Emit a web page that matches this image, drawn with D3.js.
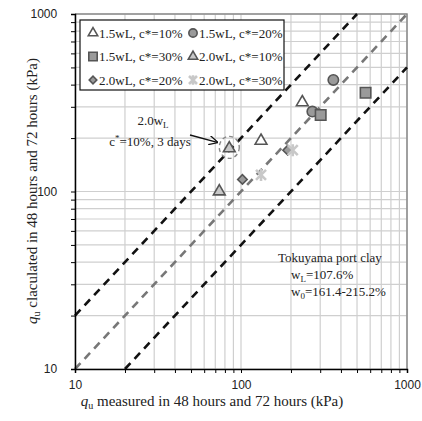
<!DOCTYPE html>
<head>
<meta charset="utf-8">
<title>qu calculated vs measured</title>
<script src="https://cdn.jsdelivr.net/npm/d3@7/dist/d3.min.js"></script>
<style>
	body { margin: 0; background: #fff; }
	.tick text { font: 12px "Liberation Sans", sans-serif; fill: #222; }
	.serif { font-family: "Liberation Serif", "Times New Roman", serif; fill: #222; }
</style>
</head>
<body>
<script>
var width = 422, height = 421;
var margin = {top: 14, right: 15, bottom: 52, left: 75};

// data
var seriesNames = ["1.5wL, c*=10%", "1.5wL, c*=20%", "1.5wL, c*=30%",
                   "2.0wL, c*=10%", "2.0wL, c*=20%", "2.0wL, c*=30%"];
var x15c10 = [132, 234], y15c10 = [193, 318];
var x15c20 = [269, 360], y15c20 = [282, 425];
var x15c30 = [302, 563], y15c30 = [270, 360];
var x20c10 = [74, 85],   y20c10 = [100, 175];
var x20c20 = [102, 191], y20c20 = [117, 171];
var x20c30 = [132, 205], y20c30 = [124, 171];
var highlight = [85, 175]; // 2.0wL, c*=10%, 3 days
var ratios = [2, 1, 0.5];  // y = k * x reference lines
var tickValues = [10, 100, 1000];

var allX = [x15c10, x15c20, x15c30, x20c10, x20c20, x20c30];
var allY = [y15c10, y15c20, y15c30, y20c10, y20c20, y20c30];

var svg = d3.select("body").append("svg")
	.attr("width", width)
	.attr("height", height);

var x = d3.scaleLog().domain([10, 1000]).range([margin.left, width - margin.right]);
var y = d3.scaleLog().domain([10, 1000]).range([height - margin.bottom, margin.top]);

// grid lines at 1..9 of each decade
var gridVals = [];
[10, 100].forEach(function(d) { for (var i = 1; i < 10; i++) gridVals.push(d * i); });
gridVals.push(1000);

var g = svg.append("g");
g.selectAll(".vg").data(gridVals).enter().append("line")
	.attr("x1", function(d) { return x(d); }).attr("x2", function(d) { return x(d); })
	.attr("y1", y(10)).attr("y2", y(1000))
	.style("stroke", "#cfcfcf").style("stroke-width", 1.2);
g.selectAll(".hg").data(gridVals).enter().append("line")
	.attr("y1", function(d) { return y(d); }).attr("y2", function(d) { return y(d); })
	.attr("x1", x(10)).attr("x2", x(1000))
	.style("stroke", "#cfcfcf").style("stroke-width", 1.2);

// top / right frame
svg.append("path")
	.attr("d", "M" + x(10) + "," + y(1000) + "H" + x(1000) + "V" + y(10))
	.style("fill", "none").style("stroke", "#8a8a8a").style("stroke-width", 1.5);

// reference lines y = k x
var lineColors = ["#111", "#777", "#111"];
ratios.forEach(function(k, i) {
	var x0 = Math.max(10, 10 / k), x1 = Math.min(1000, 1000 / k);
	svg.append("line")
		.attr("x1", x(x0)).attr("y1", y(x0 * k))
		.attr("x2", x(x1)).attr("y2", y(x1 * k))
		.style("stroke", lineColors[i])
		.style("stroke-width", 2.6)
		.style("stroke-dasharray", "8,6");
});

// axes
var xAxis = d3.axisBottom(x).tickValues(gridVals).tickSize(4)
	.tickFormat(function(d) { return tickValues.indexOf(d) >= 0 ? d : ""; });
var yAxis = d3.axisLeft(y).tickValues(gridVals).tickSize(4)
	.tickFormat(function(d) { return tickValues.indexOf(d) >= 0 ? d : ""; });

var gx = svg.append("g").attr("transform", "translate(0," + y(10) + ")").call(xAxis);
gx.selectAll("text").attr("dy", "1.05em");
var gy = svg.append("g").attr("transform", "translate(" + x(10) + ",0)").call(yAxis);
gy.selectAll("text").attr("dx", "-0.9em");
[gx, gy].forEach(function(a) {
	a.select(".domain").style("stroke", "#000").style("stroke-width", 1.5);
	a.selectAll(".tick line").style("stroke", "#000");
});

// markers
var stroke = "#555";
var styles = [
	{type: d3.symbolTriangle, size: 60, fill: "#fff", stroke: stroke},
	{type: d3.symbolCircle, size: 85, fill: "#9a9a9a", stroke: stroke},
	{type: d3.symbolSquare, size: 110, fill: "#9a9a9a", stroke: stroke},
	{type: d3.symbolTriangle, size: 60, fill: "#c8c8c8", stroke: stroke},
	{type: d3.symbolSquare, size: 45, fill: "#9a9a9a", stroke: stroke, rotate: 45},
	{type: "star", size: 5, fill: "none", stroke: "#c8c8c8"}
];

function drawMarker(sel, s, cx, cy, scale) {
	scale = scale || 1;
	if (s.type === "star") {
		var r = s.size * scale;
		sel.append("path")
			.attr("transform", "translate(" + cx + "," + cy + ")")
			.attr("d", "M" + (-r) + "," + (-r) + "L" + r + "," + r +
			           "M" + (-r) + "," + r + "L" + r + "," + (-r) +
			           "M0," + (-r * 1.2) + "V" + (r * 1.2))
			.style("stroke", s.stroke).style("stroke-width", 2.6).style("fill", "none");
	} else {
		sel.append("path")
			.attr("transform", "translate(" + cx + "," + cy + ") rotate(" + (s.rotate || 0) + ")")
			.attr("d", d3.symbol().type(s.type).size(s.size * scale * scale)())
			.style("fill", s.fill).style("stroke", s.stroke).style("stroke-width", 1.6);
	}
}

// highlight circle around the 3-day point
svg.append("ellipse")
	.attr("cx", x(highlight[0])).attr("cy", y(highlight[1]) - 1)
	.attr("rx", 10).attr("ry", 11)
	.style("fill", "none").style("stroke", "#888").style("stroke-width", 1.4)
	.style("stroke-dasharray", "4,3");

var pts = svg.append("g");
allX.forEach(function(xs, i) {
	xs.forEach(function(v, j) {
		drawMarker(pts, styles[i], x(v), y(allY[i][j]));
	});
});

// annotation
svg.append("text").attr("class", "serif").attr("x", 153).attr("y", 125)
	.attr("text-anchor", "middle").style("font-size", "13px")
	.html('2.0w<tspan dy="3" style="font-size:9px">L</tspan>');
svg.append("text").attr("class", "serif").attr("x", 150).attr("y", 146)
	.attr("text-anchor", "middle").style("font-size", "13px")
	.html('c<tspan dy="-5" style="font-size:9px">*</tspan><tspan dy="5">=10%, 3 days</tspan>');
svg.append("defs").append("marker")
	.attr("id", "arr").attr("viewBox", "0 0 10 10").attr("refX", 9).attr("refY", 5)
	.attr("markerWidth", 7).attr("markerHeight", 7).attr("orient", "auto")
	.append("path").attr("d", "M0,0L10,5L0,10").style("fill", "none").style("stroke", "#111").style("stroke-width", 1.5);
svg.append("line")
	.attr("x1", 190).attr("y1", 135).attr("x2", x(highlight[0]) - 12).attr("y2", y(highlight[1]) - 6)
	.style("stroke", "#111").style("stroke-width", 1.3)
	.attr("marker-end", "url(#arr)");

// material note
var note = svg.append("g").attr("class", "serif").style("font-size", "13px");
note.append("text").attr("x", 278).attr("y", 262).text("Tokuyama port clay");
note.append("text").attr("x", 291).attr("y", 279)
	.html('w<tspan dy="3" style="font-size:9px">L</tspan><tspan dy="-3">=107.6%</tspan>');
note.append("text").attr("x", 291).attr("y", 296)
	.html('w<tspan dy="3" style="font-size:9px">0</tspan><tspan dy="-3">=161.4-215.2%</tspan>');

// legend
var lg = svg.append("g");
lg.append("rect").attr("x", 80).attr("y", 20).attr("width", 204).attr("height", 70)
	.style("fill", "#fff").style("stroke", "#111").style("stroke-width", 1.2);
seriesNames.forEach(function(name, i) {
	var col = i % 2, row = Math.floor(i / 2);
	var lx = 93 + col * 100, ly = 33 + row * 23.5;
	drawMarker(lg, styles[i], lx, ly, 0.8);
	lg.append("text").attr("class", "serif").attr("x", lx + 6).attr("y", ly + 4.5)
		.style("font-size", "13px").text(name);
});

// axis titles
svg.append("text").attr("class", "serif")
	.attr("x", 212).attr("y", 406).attr("text-anchor", "middle").style("font-size", "15px")
	.html('<tspan font-style="italic">q</tspan><tspan dy="3" style="font-size:10px">u</tspan><tspan dy="-3"> measured in 48 hours and 72 hours (kPa)</tspan>');
svg.append("text").attr("class", "serif")
	.attr("transform", "translate(37,191) rotate(-90)").attr("text-anchor", "middle").style("font-size", "15px")
	.html('<tspan font-style="italic">q</tspan><tspan dy="3" style="font-size:10px">u</tspan><tspan dy="-3"> claculated in 48 hours and 72 hours (kPa)</tspan>');
</script>
</body>
